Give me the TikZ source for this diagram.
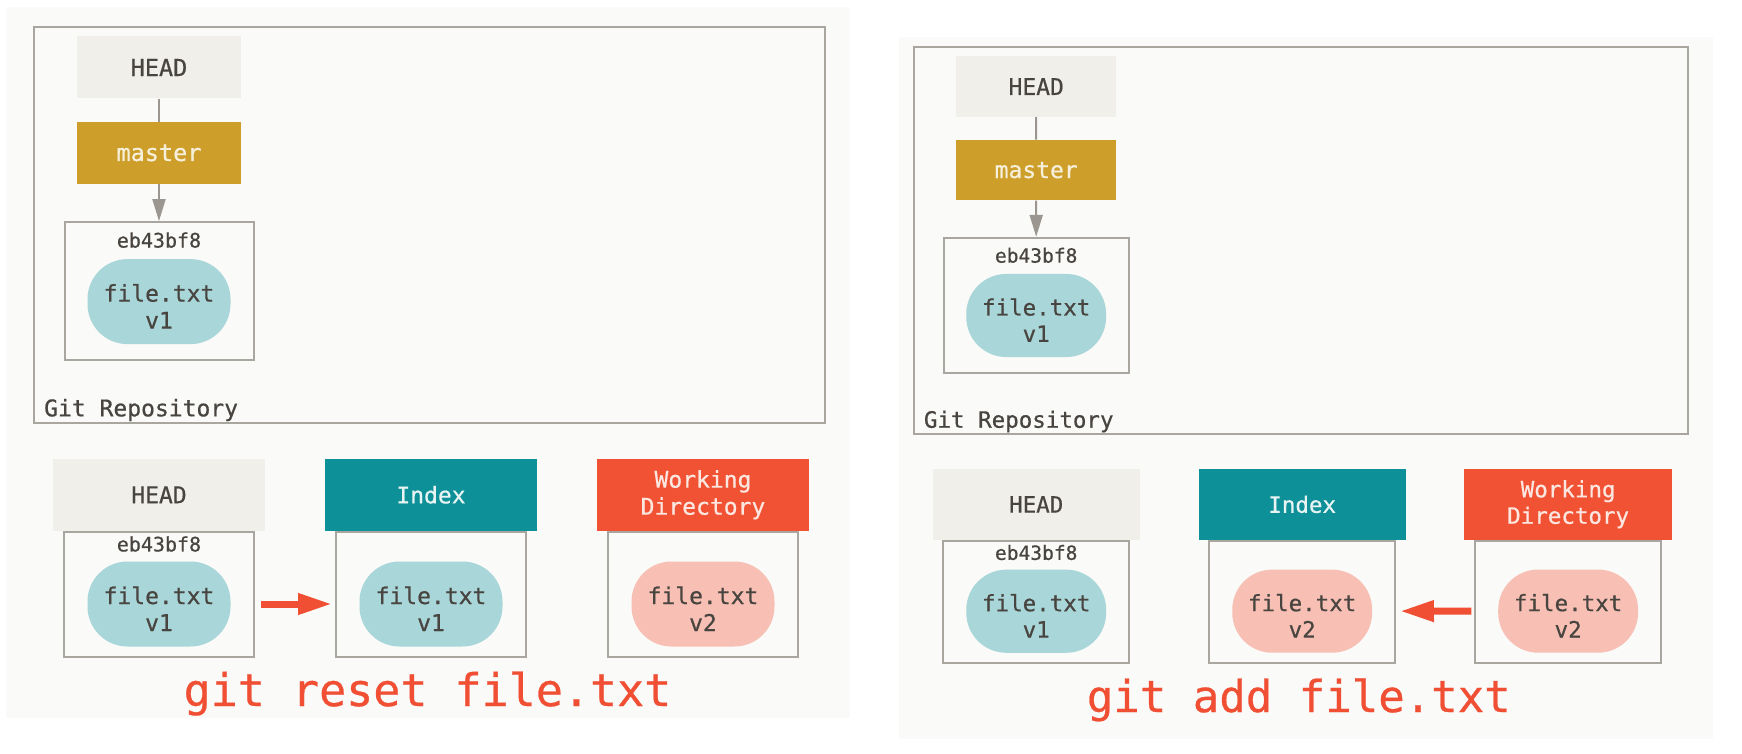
\documentclass[tikz,border=0pt]{standalone}
\usepackage{fontspec}
\usepackage{tikz}
\usetikzlibrary{positioning,arrows.meta}
\newfontfamily\gitfont[FakeBold=0.6]{DejaVu Sans Mono}
\definecolor{panelbg}{HTML}{FAFAF8}
\definecolor{headgray}{HTML}{F0EFE9}
\definecolor{mastergold}{HTML}{CD9E29}
\definecolor{masterink}{HTML}{F6EFD9}
\definecolor{indexteal}{HTML}{0D9098}
\definecolor{indexink}{HTML}{E8F4F4}
\definecolor{wdred}{HTML}{F25234}
\definecolor{wdink}{HTML}{FBE6E0}
\definecolor{blobone}{HTML}{A8D6D9}
\definecolor{blobtwo}{HTML}{F8C0B4}
\definecolor{inkgray}{HTML}{48443F}
\definecolor{linegray}{HTML}{A9A59F}
\definecolor{linkgray}{HTML}{9B968F}
\definecolor{arrowred}{HTML}{F04F34}
\newcommand{\gitsize}[1]{\gitfont\fontsize{#1}{27}\selectfont}

\begin{document}
\begin{tikzpicture}[x=1pt, y=-1pt,
    every node/.append style={inner sep=0pt, text=inkgray, font=\gitsize{23}},
    frame/.style={draw=linegray, line width=2pt},
    ref/.style={minimum width=164pt, minimum height=62pt, font=\gitsize{23.5}},
    area/.style={minimum width=212pt, minimum height=72pt, align=center},
    tree/.style={frame, minimum width=190pt, minimum height=125pt},
    blob/.style={minimum width=143pt, minimum height=85pt, rounded corners=40pt, align=center, text height=54pt},
    hash/.style={font=\gitsize{20}},
    link/.style={draw=linkgray, line width=2pt},
    ptr/.style={link, -{Triangle[length=22pt, width=13pt]}},
    move/.style={draw=arrowred, line width=7pt, -{Triangle[length=34pt, width=20pt]}},
    cmd/.style={text=arrowred, font=\gitsize{45}, anchor=base}]
    \useasboundingbox (0,0) rectangle (1742,754);
    \fill[panelbg] (6,7) rectangle (850,718);
    \fill[panelbg] (899,37) rectangle (1713,739);
    % git reset
    \begin{scope}[shift={(33,26)}]
        \node[frame, minimum width=791pt, minimum height=396pt, anchor=north west] (repol) at (0,0) {};
        \node[anchor=west] (repotextl) at ([xshift=11pt, yshift=14pt]repol.south west) {Git Repository};
        \node[ref, fill=headgray] (headl) at (126,41.5) {HEAD};
        \node[ref, fill=mastergold, text=masterink, below=23pt of headl] (masterl) {master};
        \node[frame, minimum width=189pt, minimum height=138pt, below=37pt of masterl] (commitl) {};
        \node[hash] (commithashl) at ([yshift=-19pt]commitl.north) {eb43bf8};
        \node[blob, fill=blobone] (commitblobl) at ([yshift=-10.5pt]commitl.center) {file.txt\\v1};
        \draw[link] (headl) -- (masterl);
        \draw[ptr] (masterl) -- (commitl);
        \node[tree] (headtreel) at (126,568.5) {};
        \node[area, fill=headgray, above=0pt of headtreel] (headareal) {HEAD};
        \node[hash] (headhashl) at ([yshift=-13pt]headtreel.north) {eb43bf8};
        \node[blob, fill=blobone] (headblobl) at ([yshift=-9.5pt]headtreel.center) {file.txt\\v1};
        \node[tree, right=80pt of headtreel] (indextreel) {};
        \node[area, fill=indexteal, text=indexink, above=0pt of indextreel] (indexareal) {Index};
        \node[blob, fill=blobone] (indexblobl) at ([yshift=-9.5pt]indextreel.center) {file.txt\\v1};
        \node[tree, right=80pt of indextreel] (worktreel) {};
        \node[area, fill=wdred, text=wdink, above=0pt of worktreel] (workareal) {Working\\Directory};
        \node[blob, fill=blobtwo] (workblobl) at ([yshift=-9.5pt]worktreel.center) {file.txt\\v2};
        \draw[move] ([xshift=6pt]headtreel.east |- headblobl) -- ([xshift=-3pt]indextreel.west |- indexblobl);
        \node[cmd] (cmdl) at (394.5,680) {git reset file.txt};
    \end{scope}
    % git add
    \begin{scope}[shift={(913,46)}, scale=0.978, transform shape]
        \node[frame, minimum width=791pt, minimum height=396pt, anchor=north west] (repor) at (0,0) {};
        \node[anchor=west] (repotextr) at ([xshift=11pt, yshift=14pt]repor.south west) {Git Repository};
        \node[ref, fill=headgray] (headr) at (126,41.5) {HEAD};
        \node[ref, fill=mastergold, text=masterink, below=23pt of headr] (masterr) {master};
        \node[frame, minimum width=189pt, minimum height=138pt, below=37pt of masterr] (commitr) {};
        \node[hash] (commithashr) at ([yshift=-19pt]commitr.north) {eb43bf8};
        \node[blob, fill=blobone] (commitblobr) at ([yshift=-10.5pt]commitr.center) {file.txt\\v1};
        \draw[link] (headr) -- (masterr);
        \draw[ptr] (masterr) -- (commitr);
        \node[tree] (headtreer) at (126,568.5) {};
        \node[area, fill=headgray, above=0pt of headtreer] (headarear) {HEAD};
        \node[hash] (headhashr) at ([yshift=-13pt]headtreer.north) {eb43bf8};
        \node[blob, fill=blobone] (headblobr) at ([yshift=-9.5pt]headtreer.center) {file.txt\\v1};
        \node[tree, right=80pt of headtreer] (indextreer) {};
        \node[area, fill=indexteal, text=indexink, above=0pt of indextreer] (indexarear) {Index};
        \node[blob, fill=blobtwo] (indexblobr) at ([yshift=-9.5pt]indextreer.center) {file.txt\\v2};
        \node[tree, right=80pt of indextreer] (worktreer) {};
        \node[area, fill=wdred, text=wdink, above=0pt of worktreer] (workarear) {Working\\Directory};
        \node[blob, fill=blobtwo] (workblobr) at ([yshift=-9.5pt]worktreer.center) {file.txt\\v2};
        \draw[move] ([xshift=-3pt]worktreer.west |- workblobr) -- ([xshift=4pt]indextreer.east |- indexblobr);
        \node[cmd] (cmdr) at (394.5,681) {git add file.txt};
    \end{scope}
\end{tikzpicture}
\end{document}
